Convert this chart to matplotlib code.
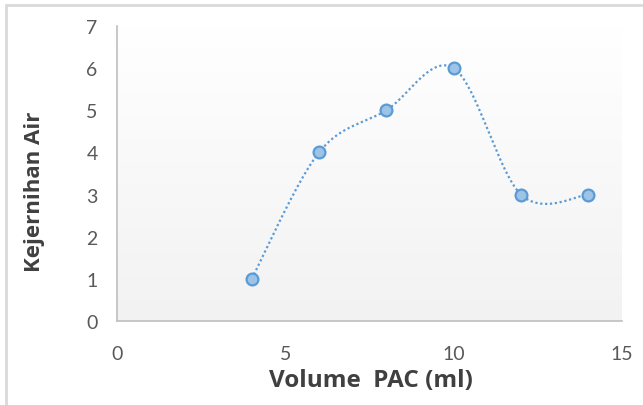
import numpy as np
import matplotlib
matplotlib.use("Agg")
import matplotlib.pyplot as plt
from matplotlib.patches import Rectangle

# dosis PAC vs kejernihan air
volume_pac = [4, 6, 8, 10, 12, 14]
kejernihan = [1, 4, 5, 6, 3, 3]

x_ticks = [0, 5, 10, 15]
y_ticks = [0, 1, 2, 3, 4, 5, 6, 7]


def smooth_curve(xs, ys, n=40):
    # catmull-rom style bezier, like the spreadsheet "smoothed line"
    p = np.column_stack([xs, ys]).astype(float)
    p = np.vstack([p[0], p, p[-1]])
    out = []
    for i in range(1, len(p) - 2):
        p0, p1, p2, p3 = p[i - 1], p[i], p[i + 1], p[i + 2]
        c1 = p1 + (p2 - p0) / 6.0
        c2 = p2 - (p3 - p1) / 6.0
        t = np.linspace(0, 1, n)[:, None]
        seg = ((1 - t) ** 3) * p1 + 3 * ((1 - t) ** 2) * t * c1 + 3 * (1 - t) * t ** 2 * c2 + t ** 3 * p2
        out.append(seg if i == 1 else seg[1:])
    out = np.vstack(out)
    return out[:, 0], out[:, 1]


plt.rcParams['font.family'] = ['Lato', 'DejaVu Sans']

fig = plt.figure(figsize=(6.43, 4.06), dpi=100)
ax = fig.add_axes([117 / 643, 1 - 322 / 406, (622 - 117) / 643, (322 - 27) / 406])

# frame around the whole chart
fig.patches.append(Rectangle((6 / 643, -0.1), 1.2, (406 - 6) / 406 + 0.1,
                             transform=fig.transFigure, fill=False,
                             edgecolor='#d9d9d9', linewidth=2))

# plot area gradient: white at top, light grey at bottom
grad = np.linspace(0, 1, 256)[:, None]
cmap = matplotlib.colors.LinearSegmentedColormap.from_list('bg', ['#ffffff', '#f2f2f2'])
ax.imshow(grad, extent=[0, 15, 0, 7], aspect='auto', cmap=cmap, zorder=0)
ax.set_xlim(0, 15)
ax.set_ylim(0, 7)

sx, sy = smooth_curve(volume_pac, kejernihan)
ax.plot(sx, sy, linestyle=(0, (1, 1.2)), color='#5b9bd5', linewidth=1.6, zorder=2)
ax.plot(volume_pac, kejernihan, linestyle='none', marker='o', markersize=8.5,
        markerfacecolor='#9dc3e6', markeredgecolor='#5b9bd5', markeredgewidth=1.6, zorder=3)

for s in ['top', 'right']:
    ax.spines[s].set_visible(False)
for s in ['left', 'bottom']:
    ax.spines[s].set_color('#bfbfbf')
    ax.spines[s].set_linewidth(1.2)

ax.set_xticks(x_ticks)
ax.set_yticks(y_ticks)
ax.tick_params(axis='x', length=0, pad=17, labelsize=14, labelcolor='#595959')
ax.tick_params(axis='y', length=0, pad=14, labelsize=14, labelcolor='#595959')

label_font = dict(family=['Open Sans', 'DejaVu Sans'], fontweight='bold', color='#404040')
ax.set_xlabel('Volume  PAC (ml)', fontsize=17.5, **label_font)
ax.set_ylabel('Kejernihan Air', fontsize=16, **label_font)
ax.xaxis.set_label_coords(0.503, -0.158)
ax.yaxis.set_label_coords(-0.143, 0.44)

fig.savefig('out.png', dpi=100)
